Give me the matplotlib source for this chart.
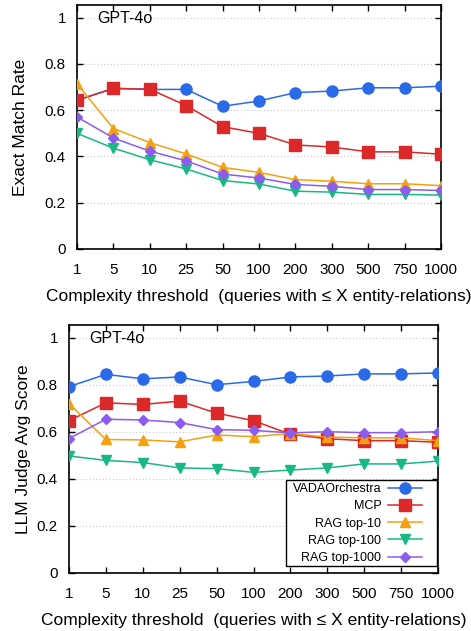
import matplotlib
matplotlib.use("Agg")
import matplotlib.pyplot as plt
from matplotlib.patches import Rectangle

plt.rcParams['font.family'] = ['Liberation Sans', 'DejaVu Sans']

thresholds = ["1", "5", "10", "25", "50", "100", "200", "300", "500", "750", "1000"]
series_names = ["VADAOrchestra", "MCP", "RAG top-10", "RAG top-100", "RAG top-1000"]

# Exact match rate
em_vada = [0.643, 0.695, 0.690, 0.690, 0.617, 0.640, 0.676, 0.683, 0.697, 0.697, 0.704]
em_mcp = [0.643, 0.694, 0.691, 0.620, 0.529, 0.500, 0.450, 0.441, 0.420, 0.420, 0.410]
em_rag10 = [0.714, 0.521, 0.460, 0.411, 0.353, 0.331, 0.300, 0.293, 0.282, 0.282, 0.274]
em_rag100 = [0.500, 0.436, 0.386, 0.346, 0.296, 0.281, 0.250, 0.246, 0.236, 0.236, 0.233]
em_rag1000 = [0.571, 0.480, 0.423, 0.381, 0.324, 0.307, 0.279, 0.271, 0.257, 0.257, 0.253]

# LLM judge avg score
lj_vada = [0.793, 0.845, 0.826, 0.834, 0.801, 0.815, 0.834, 0.838, 0.847, 0.847, 0.851]
lj_mcp = [0.648, 0.724, 0.717, 0.731, 0.680, 0.648, 0.590, 0.571, 0.563, 0.563, 0.556]
lj_rag10 = [0.720, 0.568, 0.566, 0.558, 0.587, 0.580, 0.593, 0.578, 0.575, 0.575, 0.563]
lj_rag100 = [0.498, 0.479, 0.470, 0.447, 0.444, 0.428, 0.438, 0.447, 0.464, 0.464, 0.476]
lj_rag1000 = [0.572, 0.654, 0.651, 0.640, 0.610, 0.607, 0.596, 0.601, 0.597, 0.597, 0.601]

colors = ["#2a6ae8", "#dc2828", "#f5a00f", "#18b884", "#8c5cf0"]
markers = ["o", "s", "^", "v", "D"]
msizes = [8, 8, 7.5, 7.5, 5.5]

W, H = 471, 631
fig = plt.figure(figsize=(W / 100, H / 100), dpi=100)


def make_axes(left, right, top, bottom):
    return fig.add_axes([left / W, 1 - bottom / H, (right - left) / W, (bottom - top) / H])


ax1 = make_axes(77, 441, 5, 249)
ax2 = make_axes(69, 438, 325, 573)

x = list(range(len(thresholds)))


def draw(ax, data, ylabel, ylabelpad, legend=False):
    handles = []
    for i in range(len(data)):
        h, = ax.plot(x, data[i], color=colors[i], marker=markers[i], markersize=msizes[i],
                     linewidth=1.1, label=series_names[i], zorder=3 + i * 0.1)
        handles.append(h)
    ax.set_xlim(0, 10)
    ax.set_ylim(0, 1.055)
    ax.set_xticks(x)
    ax.set_xticklabels(thresholds)
    ax.set_yticks([0, 0.2, 0.4, 0.6, 0.8, 1.0])
    ax.set_yticklabels(["0", "0.2", "0.4", "0.6", "0.8", "1"])
    ax.tick_params(direction='in', length=4, width=1, top=True, right=True, labelsize=11, pad=8)
    ax.tick_params(axis='x', pad=10)
    ax.yaxis.grid(True, linestyle=(0, (1, 2)), color='#c8c8c8', linewidth=0.8)
    ax.set_axisbelow(True)
    for s in ax.spines.values():
        s.set_linewidth(1.2)
    ax.set_xlabel("Complexity threshold  (queries with \u2264 X entity-relations)", fontsize=12.5, labelpad=9)
    ax.set_ylabel(ylabel, fontsize=12.5, labelpad=ylabelpad)
    ax.text(0.055, 0.945, "GPT-4o", transform=ax.transAxes, fontsize=11.5, va='center', ha='left')
    if legend:
        # key frame (gnuplot style box)
        l, r, t, b = 69, 438, 325, 573
        x0 = (286 - l) / (r - l)
        x1 = (437 - l) / (r - l)
        y0 = (b - 566) / (b - t)
        y1 = (b - 480) / (b - t)
        ax.add_patch(Rectangle((x0, y0), x1 - x0, y1 - y0, transform=ax.transAxes,
                               facecolor='white', edgecolor='black', linewidth=1.0, zorder=9))
        leg = ax.legend(handles=handles, loc='lower right', fontsize=9, markerfirst=False,
                        frameon=False, handlelength=2.7,
                        bbox_to_anchor=((422 - l) / (r - l), (b - 564) / (b - t)), borderaxespad=0.0,
                        labelspacing=0.42, borderpad=0.0, handletextpad=0.55)
        leg.set_zorder(10)
        for tx in leg.get_texts():
            tx.set_ha('right')
        leg._legend_box.align = "right"


draw(ax1, [em_vada, em_mcp, em_rag10, em_rag100, em_rag1000], "Exact Match Rate", 12)
draw(ax2, [lj_vada, lj_mcp, lj_rag10, lj_rag100, lj_rag1000], "LLM Judge Avg Score", 4, legend=True)

fig.savefig("out.png", dpi=100)
